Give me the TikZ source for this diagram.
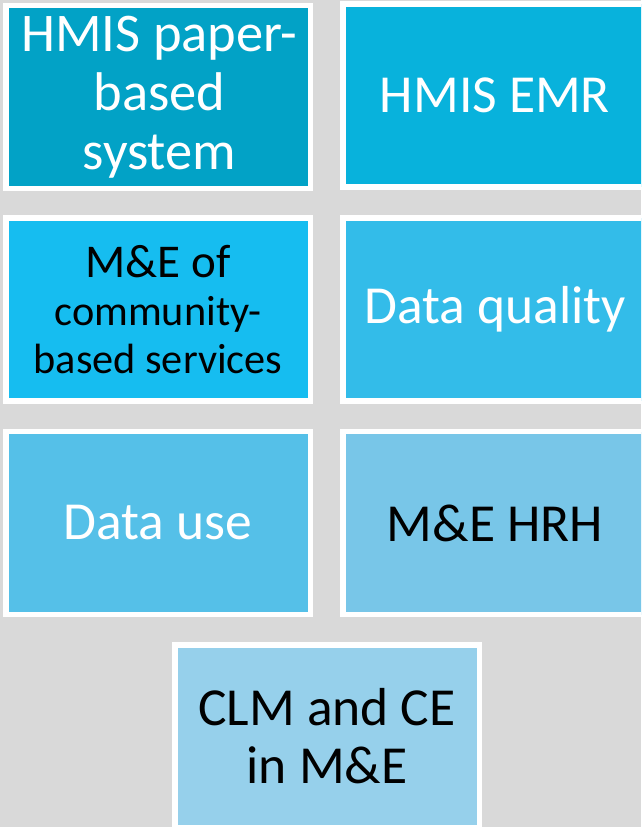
\documentclass[tikz,border=0pt]{standalone}
\usepackage{fontspec}
\setmainfont{Carlito}
\definecolor{bg}{HTML}{D9D9D9}
\definecolor{cA}{HTML}{02A2C6}
\definecolor{cB}{HTML}{08B2DC}
\definecolor{cC}{HTML}{16BDF0}
\definecolor{cD}{HTML}{33BCE9}
\definecolor{cE}{HTML}{55C0E8}
\definecolor{cF}{HTML}{78C6E8}
\definecolor{cG}{HTML}{96D0EB}
\tikzset{
  tile/.style={draw=white, line width=5.5pt, rectangle, minimum width=304.5pt, minimum height=183pt, inner sep=0pt, align=center},
  big/.style={font=\fontsize{53.5}{58}\selectfont},
  top/.style={font=\fontsize{54.5}{59}\selectfont},
  mid/.style={font=\fontsize{42.3}{48}\selectfont},
}
\begin{document}
\begin{tikzpicture}[x=1pt,y=-1pt]
\useasboundingbox (0,0) rectangle (641,827);
\clip (0,0) rectangle (641,827);
\fill[bg] (0,0) rectangle (641,827);
\node[tile, fill=cA, text=white, top] (paper) at (158,97) {\hspace*{3pt}HMIS paper-\\\hspace*{3pt}based\\\hspace*{3pt}system};
\node[tile, fill=cB, text=white, big] (emr) at (495,95.5) {HMIS EMR};
\node[tile, fill=cC, text=black, mid] (comm) at (158,309.5) {{\fontsize{47}{48}\selectfont M\&E of}\\community-\\based services};
\node[tile, fill=cD, text=white, big] (quality) at (495,309.5) {Data quality};
\node[tile, fill=cE, text=white, big] (use) at (158,523) {Data use};
\node[tile, fill=cF, text=black, big] (hrh) at (495,523) {M\&E HRH};
\node[tile, fill=cG, text=black, big] (clm) at (327,736.5) {CLM and CE\\in M\&E};
\end{tikzpicture}
\end{document}
